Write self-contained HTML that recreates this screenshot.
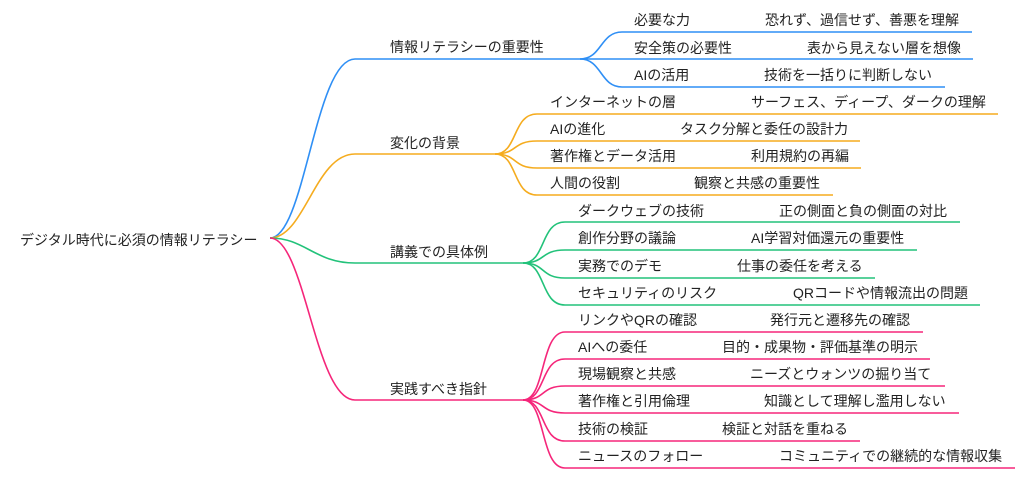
<!DOCTYPE html>
<html><head><meta charset="utf-8"><style>
html,body{margin:0;padding:0;background:#fff;width:1024px;height:477px;overflow:hidden}
svg text{font-family:"Liberation Sans","Noto Sans CJK JP",sans-serif;font-size:14px;fill:#222}
</style></head><body>
<svg width="1024" height="477" viewBox="0 0 1024 477" xmlns="http://www.w3.org/2000/svg" fill="none" stroke-width="1.6">
<text x="20" y="245">デジタル時代に必須の情報リテラシー</text>
<!-- main branches -->
<path d="M270 238 C305 238 315 59 355 59 H580" stroke="#2f8ff5"/>
<path d="M270 238 C305 238 315 154 355 154 H495" stroke="#f5ac1f"/>
<path d="M270 238 C305 238 315 263 355 263 H523" stroke="#22c27a"/>
<path d="M270 238 C305 238 315 400 355 400 H523" stroke="#f5267a"/>
<text x="390" y="52">情報リテラシーの重要性</text>
<text x="390" y="148">変化の背景</text>
<text x="390" y="257">講義での具体例</text>
<text x="390" y="394">実践すべき指針</text>
<!-- blue children -->
<g stroke="#2f8ff5">
<path d="M580 59 C602 59 600 32 622 32 H972"/>
<path d="M580 59 H973"/>
<path d="M580 59 C602 59 600 87 622 87 H945"/>
</g>
<text x="634" y="25">必要な力</text><text x="765" y="25">恐れず、過信せず、善悪を理解</text>
<text x="634" y="53">安全策の必要性</text><text x="807" y="53">表から見えない層を想像</text>
<text x="634" y="80">AIの活用</text><text x="764" y="80">技術を一括りに判断しない</text>
<!-- orange children -->
<g stroke="#f5ac1f">
<path d="M495 154 C518 154 512 114 537 114 H998"/>
<path d="M495 154 C518 154 512 141 537 141 H860"/>
<path d="M495 154 C518 154 512 168 537 168 H861"/>
<path d="M495 154 C518 154 512 195 537 195 H833"/>
</g>
<text x="550" y="107">インターネットの層</text><text x="751" y="107">サーフェス、ディープ、ダークの理解</text>
<text x="550" y="134">AIの進化</text><text x="680" y="134">タスク分解と委任の設計力</text>
<text x="550" y="161">著作権とデータ活用</text><text x="751" y="161">利用規約の再編</text>
<text x="550" y="188">人間の役割</text><text x="694" y="188">観察と共感の重要性</text>
<!-- green children -->
<g stroke="#22c27a">
<path d="M523 263 C546 263 540 222 565 222 H960"/>
<path d="M523 263 C546 263 540 250 565 250 H917"/>
<path d="M523 263 C546 263 540 278 565 278 H875"/>
<path d="M523 263 C546 263 540 305 565 305 H980"/>
</g>
<text x="578" y="216">ダークウェブの技術</text><text x="779" y="216">正の側面と負の側面の対比</text>
<text x="578" y="243">創作分野の議論</text><text x="751" y="243">AI学習対価還元の重要性</text>
<text x="578" y="271">実務でのデモ</text><text x="737" y="271">仕事の委任を考える</text>
<text x="578" y="298">セキュリティのリスク</text><text x="793" y="298">QRコードや情報流出の問題</text>
<!-- pink children -->
<g stroke="#f5267a">
<path d="M523 400 C546 400 540 332 565 332 H923"/>
<path d="M523 400 C546 400 540 359 565 359 H930"/>
<path d="M523 400 C546 400 540 386 565 386 H945"/>
<path d="M523 400 C546 400 540 413 565 413 H959"/>
<path d="M523 400 C546 400 540 441 565 441 H860"/>
<path d="M523 400 C546 400 540 468 565 468 H1015"/>
</g>
<text x="578" y="325">リンクやQRの確認</text><text x="770" y="325">発行元と遷移先の確認</text>
<text x="578" y="352">AIへの委任</text><text x="722" y="352">目的・成果物・評価基準の明示</text>
<text x="578" y="379">現場観察と共感</text><text x="750" y="379">ニーズとウォンツの掘り当て</text>
<text x="578" y="406">著作権と引用倫理</text><text x="764" y="406">知識として理解し濫用しない</text>
<text x="578" y="434">技術の検証</text><text x="722" y="434">検証と対話を重ねる</text>
<text x="578" y="461">ニュースのフォロー</text><text x="779" y="461">コミュニティでの継続的な情報収集</text>
</svg>
</body></html>
